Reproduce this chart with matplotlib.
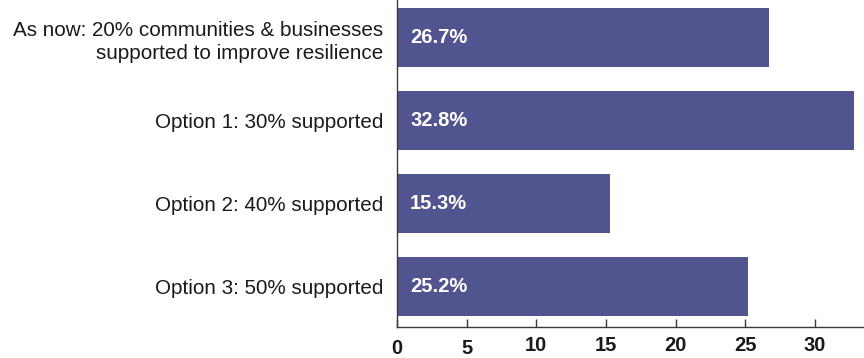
import numpy as np
import matplotlib.pyplot as plt

plt.rcParams['font.family'] = ['Liberation Sans', 'DejaVu Sans']

options = [
    "As now: 20% communities & businesses\nsupported to improve resilience",
    "Option 1: 30% supported",
    "Option 2: 40% supported",
    "Option 3: 50% supported",
]
shares = [26.7, 32.8, 15.3, 25.2]
xticks = [0, 5, 10, 15, 20, 25, 30]

bar_colour = '#52548F'
axis_colour = '#3a3a3a'

fig = plt.figure(figsize=(8.64, 3.58), dpi=100)
ax = fig.add_axes([0.4595, 0.0874, 1 - 0.4595, 1 - 0.0874])

ypos = np.arange(len(options))
ax.barh(ypos, shares, height=0.713, color=bar_colour)

for y, v in zip(ypos, shares):
    ax.annotate(f"{v:.1f}%", xy=(0, y), xytext=(9.5, 0), textcoords='offset points',
                ha='left', va='center', color='white', fontsize=14.5, fontweight='bold')

ax.set_xlim(0, 33.52)
ax.set_ylim(3.49, -0.453)

ax.set_yticks(ypos)
ax.set_yticklabels(options, fontsize=14.9, color='#1a1a1a', linespacing=1.3)
ax.tick_params(axis='y', length=0, pad=10)

ax.set_xticks(xticks)
ax.set_xticklabels([str(t) for t in xticks], fontsize=14.5, fontweight='bold', color='#1a1a1a')
ax.tick_params(axis='x', direction='in', length=6, width=1, color=axis_colour, pad=6.5)
# the first two labels sit a little lower than the rest
for tk in ax.xaxis.get_major_ticks()[:2]:
    tk.set_pad(8.5)

for side in ('top', 'right'):
    ax.spines[side].set_visible(False)
for side in ('left', 'bottom'):
    ax.spines[side].set_color(axis_colour)
    ax.spines[side].set_linewidth(1)

fig.savefig('out.png', dpi=100)
